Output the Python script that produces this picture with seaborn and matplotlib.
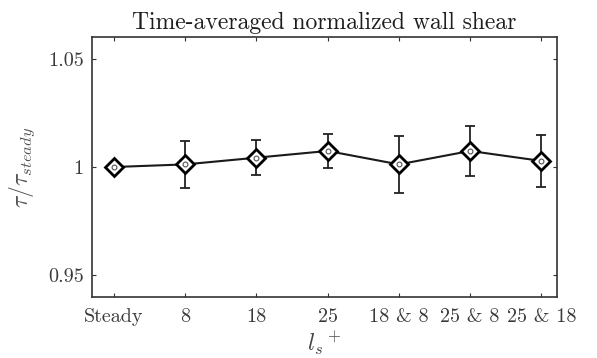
import seaborn as sns
import pandas as pd
import numpy as np
import matplotlib.pyplot as plt

cases = ['Steady', '8', '18', '25', '18 & 8', '25 & 8', '25 & 18']
tau_norm = [1.0, 1.0012, 1.0043, 1.0074, 1.0012, 1.0074, 1.0028]
tau_err = [0.0, 0.0107, 0.008, 0.008, 0.013, 0.0114, 0.012]

sns.set_style('ticks')
plt.rcParams['font.family'] = ['cmr10', 'DejaVu Serif']
plt.rcParams['mathtext.fontset'] = 'cm'
plt.rcParams['axes.formatter.use_mathtext'] = True

df = pd.DataFrame({'case': cases, 'tau': tau_norm, 'err': tau_err})

fig, ax = plt.subplots(figsize=(5.97, 3.58), dpi=100)
ax.errorbar(np.arange(len(cases)), df['tau'], yerr=df['err'], fmt='none',
            ecolor='#222222', elinewidth=1.3, capsize=3.5, capthick=1.3, zorder=2)
sns.pointplot(data=df, x='case', y='tau', color='#1a1a1a', markers='D',
              linestyles='-', errorbar=None, ax=ax, zorder=3,
              markersize=9, linewidth=1.5,
              markerfacecolor='white', markeredgecolor='black', markeredgewidth=2.0)
# small inner dot seen inside each diamond
sns.scatterplot(data=df, x='case', y='tau', marker='o', s=12, color='white',
                edgecolor='#555555', linewidth=0.8, ax=ax, zorder=4, legend=False)

ax.set_xlim(-0.31, 6.22)
ax.set_ylim(0.94, 1.06)
ax.set_yticks([0.95, 1.0, 1.05])
ax.set_yticklabels(['0.95', '1', '1.05'])
ax.tick_params(direction='in', length=3, top=True, right=True, labelsize=14.5,
               labelcolor='#3a3a3a', color='#333333')
ax.tick_params(axis='x', pad=8)
ax.tick_params(axis='y', pad=6)
for s in ax.spines.values():
    s.set_color('#333333')
    s.set_linewidth(1.2)

ax.set_title('Time-averaged normalized wall shear', fontsize=17, color='#1e1e1e', pad=6)
ax.set_xlabel(r'$l_s{}^+$', fontsize=17, color='#444444', labelpad=2)
ax.set_ylabel(r'$\tau/\tau_{steady}$', fontsize=17, color='#555555', labelpad=8)

fig.subplots_adjust(left=0.154, right=0.933, top=0.897, bottom=0.17)
fig.savefig('out.png', dpi=100)
